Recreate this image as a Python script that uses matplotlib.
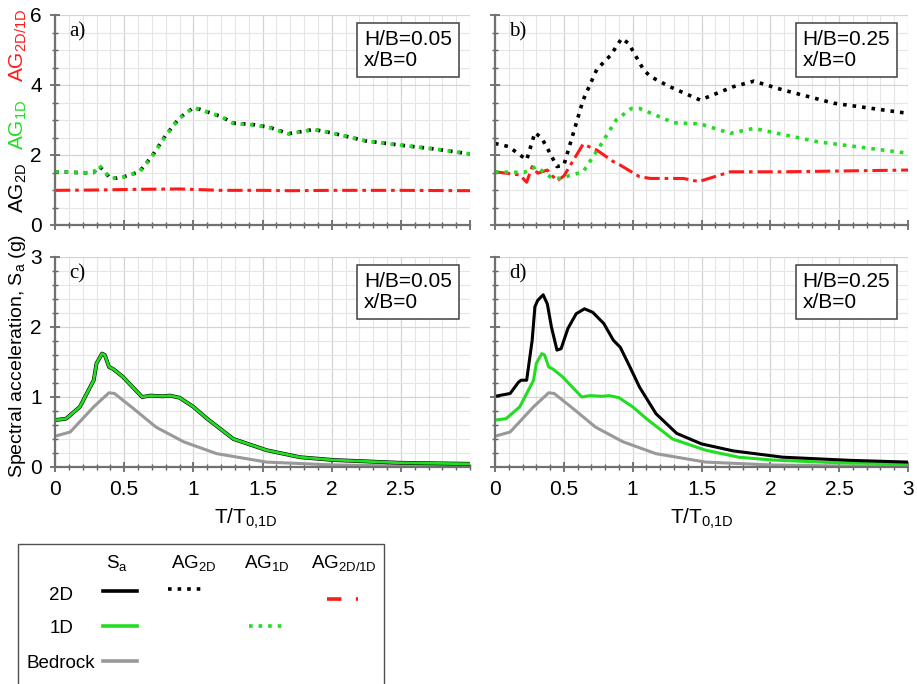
import numpy as np
import matplotlib
matplotlib.use("Agg")
import matplotlib.pyplot as plt
from matplotlib.ticker import MultipleLocator, FuncFormatter
from matplotlib.patches import Rectangle

plt.rcParams['font.family'] = ['Liberation Sans', 'DejaVu Sans']
plt.rcParams['mathtext.default'] = 'regular'

# ---- panel a (H/B=0.05): amplification functions
a_x_1d = [0, 0.1, 0.2, 0.28, 0.32, 0.36, 0.4, 0.45, 0.5, 0.61, 0.7, 0.8, 0.9, 1.0, 1.05,
          1.2, 1.29, 1.43, 1.55, 1.69, 1.8, 1.87, 2.0, 2.25, 2.5, 2.75, 3.0]
a_ag1d = [1.52, 1.51, 1.49, 1.5, 1.7, 1.52, 1.33, 1.34, 1.38, 1.52, 1.95, 2.55, 3.05, 3.36, 3.3,
          3.1, 2.9, 2.86, 2.78, 2.6, 2.68, 2.73, 2.63, 2.4, 2.28, 2.17, 2.03]
a_ag2d = [1.52, 1.51, 1.49, 1.5, 1.68, 1.52, 1.33, 1.34, 1.38, 1.52, 1.96, 2.56, 3.06, 3.35, 3.3,
          3.1, 2.91, 2.87, 2.79, 2.61, 2.68, 2.73, 2.63, 2.4, 2.28, 2.17, 2.03]
a_x_r = [0, 0.3, 0.6, 0.9, 1.2, 1.5, 1.7, 2.0, 2.5, 3.0]
a_ratio = [0.99, 1.0, 1.02, 1.03, 0.99, 0.99, 0.98, 0.99, 0.99, 0.98]

# ---- panel b (H/B=0.25)
b_x_2d = [0, 0.1, 0.23, 0.29, 0.34, 0.4, 0.45, 0.5, 0.54, 0.64, 0.74, 0.84, 0.92, 0.97,
          1.08, 1.13, 1.27, 1.49, 1.73, 1.88, 2.09, 2.46, 3.0]
b_ag2d = [2.33, 2.24, 1.86, 2.64, 2.48, 2.05, 1.67, 1.71, 2.24, 3.57, 4.45, 4.85, 5.33, 5.19,
          4.43, 4.24, 3.95, 3.57, 3.95, 4.11, 3.86, 3.48, 3.19]
b_x_1d = [0, 0.21, 0.3, 0.4, 0.47, 0.64, 0.76, 0.88, 0.99, 1.05, 1.3, 1.49, 1.71, 1.88,
          2.34, 3.0]
b_ag1d = [1.52, 1.5, 1.67, 1.38, 1.33, 1.52, 2.24, 3.0, 3.33, 3.33, 2.92, 2.89, 2.62, 2.76,
          2.38, 2.05]
b_x_r = [0, 0.18, 0.23, 0.27, 0.31, 0.38, 0.45, 0.5, 0.64, 0.74, 0.86, 0.91, 1.05, 1.13,
         1.37, 1.48, 1.71, 2.09, 3.0]
b_ratio = [1.52, 1.43, 1.22, 1.67, 1.48, 1.57, 1.26, 1.4, 2.31, 2.14, 1.81, 1.71, 1.38, 1.33,
           1.33, 1.24, 1.52, 1.52, 1.57]

# ---- spectral acceleration (g)
sa_x_1d = [0, 0.08, 0.18, 0.28, 0.3, 0.34, 0.36, 0.39, 0.42, 0.49, 0.63, 0.69, 0.78, 0.83,
           0.9, 1.0, 1.1, 1.29, 1.53, 1.77, 2.01, 2.49, 3.0]
sa_1d = [0.67, 0.69, 0.86, 1.24, 1.48, 1.62, 1.6, 1.43, 1.4, 1.29, 1.0, 1.02, 1.01, 1.02,
         0.99, 0.86, 0.69, 0.40, 0.24, 0.14, 0.1, 0.06, 0.045]
sa_x_rock = [0, 0.11, 0.28, 0.39, 0.43, 0.57, 0.73, 0.93, 1.17, 1.53, 2.0, 2.5, 3.0]
sa_rock = [0.44, 0.5, 0.86, 1.06, 1.05, 0.83, 0.57, 0.36, 0.19, 0.07, 0.03, 0.015, 0.01]
sa_x_2d_b = [0, 0.11, 0.17, 0.19, 0.23, 0.27, 0.29, 0.31, 0.35, 0.38, 0.41, 0.45, 0.48, 0.53,
             0.59, 0.65, 0.71, 0.79, 0.86, 0.91, 0.98, 1.05, 1.17, 1.32, 1.5, 1.73, 2.09,
             2.58, 3.0]
sa_2d_b = [1.01, 1.05, 1.21, 1.24, 1.24, 1.81, 2.29, 2.38, 2.46, 2.33, 2.0, 1.67, 1.69, 1.98,
           2.19, 2.26, 2.21, 2.05, 1.81, 1.71, 1.43, 1.14, 0.76, 0.48, 0.33, 0.23, 0.14,
           0.095, 0.07]

W, H = 917, 684
fig = plt.figure(figsize=(W / 100, H / 100), dpi=100)

def box(l, t, r, b):
    return [l / W, 1 - b / H, (r - l) / W, (b - t) / H]

ax_a = fig.add_axes(box(55, 15, 470, 225))
ax_b = fig.add_axes(box(495, 15, 908, 225))
ax_c = fig.add_axes(box(55, 257, 470, 467))
ax_d = fig.add_axes(box(495, 257, 908, 467))

red_dd = (0, (5, 1.6, 1.2, 1.6))
fmt = FuncFormatter(lambda v, p: '%g' % v)

def style(ax, ymax, ymaj, ymin_step, label, hb, xlabels, ylabels):
    ax.set_xlim(0, 3)
    ax.set_ylim(0, ymax)
    ax.xaxis.set_major_locator(MultipleLocator(0.5))
    ax.xaxis.set_minor_locator(MultipleLocator(0.1))
    ax.yaxis.set_major_locator(MultipleLocator(ymaj))
    ax.yaxis.set_minor_locator(MultipleLocator(ymin_step))
    ax.xaxis.set_major_formatter(fmt)
    ax.yaxis.set_major_formatter(fmt)
    ax.grid(True, which='major', color='#d4d4d4', lw=0.9)
    ax.grid(True, which='minor', color='#e6e6e6', lw=0.8)
    ax.set_axisbelow(True)
    for s in ['top', 'right']:
        ax.spines[s].set_visible(False)
    for s in ['left', 'bottom']:
        ax.spines[s].set_color('#707070')
        ax.spines[s].set_linewidth(1.6)
    ax.tick_params(which='major', direction='inout', length=7, width=1.2, color='#606060',
                   labelsize=15, pad=6)
    ax.tick_params(which='minor', direction='inout', length=4, width=1.0, color='#606060')
    ax.tick_params(labelbottom=xlabels, labelleft=ylabels)
    ax.text(0.035, 0.965, label, transform=ax.transAxes, ha='left', va='top',
            fontsize=15, family='Liberation Serif')
    ax.text(0.745, 0.93, 'H/B=' + hb + '\nx/B=0', transform=ax.transAxes, ha='left',
            va='top', fontsize=15, linespacing=1.15,
            bbox=dict(boxstyle='square,pad=0.33', fc='white', ec='#404040', lw=1.1))

style(ax_a, 6, 2, 0.5, 'a)', '0.05', False, True)
style(ax_b, 6, 2, 0.5, 'b)', '0.25', False, False)
style(ax_c, 3, 1, 0.2, 'c)', '0.05', True, True)
style(ax_d, 3, 1, 0.2, 'd)', '0.25', True, False)

ax_c.set_xticks([0, 0.5, 1, 1.5, 2, 2.5])

# top panels
ax_a.plot(a_x_r, a_ratio, color='#ff1a1a', lw=2.2, ls=red_dd)
ax_a.plot(a_x_1d, a_ag2d, color='black', lw=2.6, ls=':')
ax_a.plot(a_x_1d, a_ag1d, color='#22dd22', lw=2.6, ls=':')

ax_b.plot(b_x_r, b_ratio, color='#ff1a1a', lw=2.2, ls=red_dd)
ax_b.plot(b_x_2d, b_ag2d, color='black', lw=2.6, ls=':')
ax_b.plot(b_x_1d, b_ag1d, color='#22dd22', lw=2.6, ls=':')

# bottom panels
ax_c.plot(sa_x_rock, sa_rock, color='#999999', lw=2.2)
ax_c.plot(sa_x_1d, sa_1d, color='black', lw=2.8)
ax_c.plot(sa_x_1d, sa_1d, color='#22dd22', lw=2.0)

ax_d.plot(sa_x_rock, sa_rock, color='#999999', lw=2.2)
ax_d.plot(sa_x_1d, sa_1d, color='#22dd22', lw=2.2)
ax_d.plot(sa_x_2d_b, sa_2d_b, color='black', lw=2.2)

for ax in (ax_c, ax_d):
    ax.set_xlabel('T/T$_{0{,}1D}$', fontsize=15, labelpad=8)
ax_c.xaxis.set_label_coords(0.46, -0.19)
ax_d.xaxis.set_label_coords(0.5, -0.19)

# y labels
fig.text(18 / W, 1 - 188 / H, 'AG$_{2D}$', rotation=90, ha='center', va='center',
         fontsize=15, color='black')
fig.text(18 / W, 1 - 125 / H, 'AG$_{1D}$', rotation=90, ha='center', va='center',
         fontsize=15, color='#22dd22')
fig.text(18 / W, 1 - 45 / H, 'AG$_{2D/1D}$', rotation=90, ha='center', va='center',
         fontsize=15, color='#ff1a1a')
fig.text(18 / W, 1 - 356 / H, 'Spectral acceleration, S$_a$ (g)', rotation=90,
         ha='center', va='center', fontsize=14)

# legend table
lg = fig.add_axes(box(18, 544, 384, 690))
lg.set_xlim(0, 1)
lg.set_ylim(0, 1)
lg.axis('off')
fig.patches.append(Rectangle((18 / W, -0.02), 366 / W, 0.02 + (H - 544) / H,
                             transform=fig.transFigure, fc='none', ec='#505050', lw=1.0))
cols = ['S$_a$', 'AG$_{2D}$', 'AG$_{1D}$', 'AG$_{2D/1D}$']
col_x = [0.27, 0.48, 0.68, 0.89]
for cx, t in zip(col_x, cols):
    lg.text(cx, 0.87, t, ha='center', va='center', fontsize=13.5)
rows = ['2D', '1D', 'Bedrock']
row_y = [0.65, 0.42, 0.18]
for ry, t in zip(row_y, rows):
    lg.text(0.118, ry, t, ha='center', va='center', fontsize=13.5)
lg.plot([0.233, 0.325], [0.68, 0.68], color='black', lw=2.6)
lg.plot([0.233, 0.325], [0.44, 0.44], color='#22dd22', lw=2.6)
lg.plot([0.233, 0.325], [0.20, 0.20], color='#999999', lw=2.6)
lg.plot([0.41, 0.50], [0.69, 0.69], color='black', lw=2.6, ls=':')
lg.plot([0.63, 0.72], [0.44, 0.44], color='#22dd22', lw=2.6, ls=':')
lg.plot([0.845, 0.93], [0.62, 0.62], color='#ff1a1a', lw=2.6, ls=(0, (4, 4, 1, 4)))

fig.savefig('out.png', dpi=100)
